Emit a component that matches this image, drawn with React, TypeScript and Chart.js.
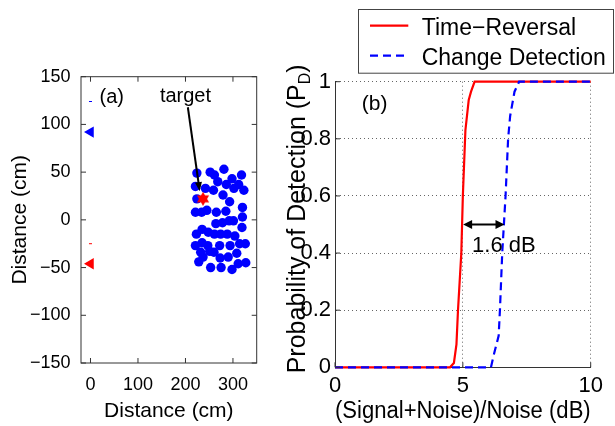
import React, { useEffect, useRef } from 'react';
import { Chart, registerables } from 'chart.js';

Chart.register(...registerables);

const FONT = '"Liberation Sans", Arial, Helvetica, sans-serif';

// ---------------- Panel (a): geometry (cm) ----------------
const scatterX = [224, 252, 261, 281, 298, 318, 221, 242, 259, 268, 286, 302, 312, 323, 224, 279, 293, 221, 234, 245, 265, 285, 320, 320, 264, 278, 292, 301, 319, 235, 223, 248, 261, 274, 288, 304, 221, 235, 247, 272, 294, 314, 326, 232, 237, 251, 260, 273, 290, 308, 228, 253, 275, 298, 311, 327];
const scatterY = [49, 50, 47, 53, 43, 47, 35, 33, 31, 40, 37, 33, 37, 31, 22, 26, 19, 8, 8, 10, 8, 9, 13, 3, -4, -3, -1, -1, -8, -10, -15, -13, -15, -15, -15, -17, -27, -24, -27, -27, -27, -25, -25, -34, -39, -33, -34, -40, -39, -35, -44, -50, -50, -52, -46, -45];
const targetX = [237];
const targetY = [22];
const blueArrayX = [0];
const blueArrayY = [92];
const redArrayX = [0];
const redArrayY = [-46];
const blueSmallX = [0];
const blueSmallY = [124];
const redSmallX = [0];
const redSmallY = [-25];
const distXTicks = [0, 100, 200, 300];
const distYTicks = [-150, -100, -50, 0, 50, 100, 150];

// ---------------- Panel (b): detection curves ----------------
const trX = [0, 4.5, 4.65, 4.75, 4.81, 4.94, 5.0, 5.1, 5.23, 5.32, 5.46, 10];
const trY = [0, 0, 0.015, 0.08, 0.2, 0.4, 0.6, 0.83, 0.936, 0.965, 1, 1];
const cdX = [0, 6.1, 6.2, 6.4, 6.45, 6.54, 6.67, 6.77, 6.85, 7.02, 7.2, 10];
const cdY = [0, 0, 0.04, 0.11, 0.2, 0.4, 0.6, 0.8, 0.88, 0.965, 1, 1];
const snrTicks = [0, 5, 10];
const pdTicks = [0, 0.2, 0.4, 0.6, 0.8, 1];
const legendLabels = ['Time\u2212Reversal', 'Change Detection'];

const minus = (v: number) => String(v).replace('-', '\u2212');

function makeHexagram(size: number, color: string) {
  const c = document.createElement('canvas');
  c.width = size;
  c.height = size;
  const ctx = c.getContext('2d')!;
  const r = size / 2;
  const ri = r / Math.sqrt(3);
  ctx.fillStyle = color;
  ctx.beginPath();
  for (let i = 0; i < 12; i++) {
    const ang = -Math.PI / 2 + (i * Math.PI) / 6;
    const rr = i % 2 === 0 ? r : ri;
    const px = r + rr * Math.cos(ang);
    const py = r + rr * Math.sin(ang);
    if (i === 0) ctx.moveTo(px, py);
    else ctx.lineTo(px, py);
  }
  ctx.closePath();
  ctx.fill();
  return c;
}

function arrowHead(ctx: CanvasRenderingContext2D, x1: number, y1: number, x2: number, y2: number, len: number, half: number) {
  const ang = Math.atan2(y2 - y1, x2 - x1);
  ctx.beginPath();
  ctx.moveTo(x2, y2);
  ctx.lineTo(x2 - len * Math.cos(ang) + half * Math.sin(ang), y2 - len * Math.sin(ang) - half * Math.cos(ang));
  ctx.lineTo(x2 - len * Math.cos(ang) - half * Math.sin(ang), y2 - len * Math.sin(ang) + half * Math.cos(ang));
  ctx.closePath();
  ctx.fill();
}

const panelAPlugin = {
  id: 'panelA',
  afterDatasetsDraw(chart: any) {
    const { ctx, chartArea: a, scales } = chart;
    const x = scales.x;
    const y = scales.y;
    ctx.save();
    ctx.strokeStyle = '#333';
    ctx.lineWidth = 1;
    ctx.strokeRect(a.left, a.top, a.right - a.left, a.bottom - a.top);
    const tl = 5;
    ctx.beginPath();
    distXTicks.forEach((v) => {
      const p = x.getPixelForValue(v);
      ctx.moveTo(p, a.bottom);
      ctx.lineTo(p, a.bottom - tl);
      ctx.moveTo(p, a.top);
      ctx.lineTo(p, a.top + tl);
    });
    distYTicks.forEach((v) => {
      const p = y.getPixelForValue(v);
      ctx.moveTo(a.left, p);
      ctx.lineTo(a.left + tl, p);
      ctx.moveTo(a.right, p);
      ctx.lineTo(a.right - tl, p);
    });
    ctx.stroke();

    // "target" arrow
    const sx = x.getPixelForValue(205);
    const sy = y.getPixelForValue(118);
    const ex = x.getPixelForValue(230);
    const ey = y.getPixelForValue(30);
    ctx.strokeStyle = '#000';
    ctx.fillStyle = '#000';
    ctx.lineWidth = 2;
    ctx.beginPath();
    ctx.moveTo(sx, sy);
    ctx.lineTo(ex - (ex - sx) * 0.08, ey - (ey - sy) * 0.08);
    ctx.stroke();
    arrowHead(ctx, sx, sy, ex, ey, 9, 3.5);

    ctx.font = `20px ${FONT}`;
    ctx.textBaseline = 'alphabetic';
    ctx.textAlign = 'center';
    ctx.fillText('target', x.getPixelForValue(200), y.getPixelForValue(123));
    ctx.textAlign = 'left';
    ctx.fillText('(a)', x.getPixelForValue(19), y.getPixelForValue(122));
    ctx.restore();
  },
};

const panelBPlugin = {
  id: 'panelB',
  afterDatasetsDraw(chart: any) {
    const { ctx, chartArea: a, scales } = chart;
    const x = scales.x;
    const y = scales.y;
    ctx.save();
    // inward ticks
    ctx.strokeStyle = '#333';
    ctx.lineWidth = 1;
    ctx.beginPath();
    snrTicks.forEach((v) => {
      const p = x.getPixelForValue(v);
      ctx.moveTo(p, a.bottom);
      ctx.lineTo(p, a.bottom - 5);
    });
    pdTicks.forEach((v) => {
      const p = y.getPixelForValue(v);
      ctx.moveTo(a.left, p);
      ctx.lineTo(a.left + 5, p);
    });
    ctx.stroke();

    // 1.6 dB double arrow
    const x1 = x.getPixelForValue(5.01);
    const x2 = x.getPixelForValue(6.63);
    const yy = y.getPixelForValue(0.5);
    ctx.strokeStyle = '#000';
    ctx.fillStyle = '#000';
    ctx.lineWidth = 2;
    ctx.beginPath();
    ctx.moveTo(x1 + 6, yy);
    ctx.lineTo(x2 - 6, yy);
    ctx.stroke();
    arrowHead(ctx, x2, yy, x1, yy, 9, 4.5);
    arrowHead(ctx, x1, yy, x2, yy, 9, 4.5);

    ctx.textBaseline = 'alphabetic';
    ctx.textAlign = 'left';
    ctx.font = `22px ${FONT}`;
    ctx.fillText('1.6 dB', x.getPixelForValue(5.36), y.getPixelForValue(0.405));
    ctx.font = `21px ${FONT}`;
    ctx.fillText('(b)', x.getPixelForValue(1.05), y.getPixelForValue(0.9));

    // y-axis title with subscript
    ctx.save();
    ctx.translate(a.left - 30.3, a.bottom + 6);
    ctx.rotate(-Math.PI / 2);
    const main = 'Probability of Detection (P';
    ctx.font = `25px ${FONT}`;
    ctx.fillText(main, 0, 0);
    let w = ctx.measureText(main).width;
    ctx.font = `16px ${FONT}`;
    ctx.fillText('D', w, 5);
    w += ctx.measureText('D').width;
    ctx.font = `25px ${FONT}`;
    ctx.fillText(')', w, 0);
    ctx.restore();

    // legend
    const lx = a.left + 22.7;
    const ly = 9;
    const lw = chart.width - 1 - lx;
    const lh = 63.7;
    ctx.fillStyle = '#fff';
    ctx.fillRect(lx, ly, lw, lh);
    ctx.strokeStyle = '#444';
    ctx.lineWidth = 1;
    ctx.strokeRect(Math.round(lx) + 0.5, ly + 0.5, Math.round(lw) - 1, lh);
    const rows = [25.7, 55.7];
    chart.data.datasets.forEach((ds: any, i: number) => {
      const ry = rows[i];
      ctx.strokeStyle = ds.borderColor;
      ctx.lineWidth = ds.borderWidth;
      ctx.setLineDash(ds.borderDash || []);
      ctx.beginPath();
      ctx.moveTo(lx + 12.3, ry);
      ctx.lineTo(lx + 50.6, ry);
      ctx.stroke();
      ctx.setLineDash([]);
      ctx.fillStyle = '#000';
      ctx.font = `23px ${FONT}`;
      ctx.fillText(ds.label, lx + 64, ry + 9);
    });
    ctx.restore();
  },
};

export default function App() {
  const leftRef = useRef<HTMLCanvasElement>(null);
  const rightRef = useRef<HTMLCanvasElement>(null);

  useEffect(() => {
    Chart.defaults.font.family = FONT;
    Chart.defaults.color = '#000';
    const star = makeHexagram(14, '#ff0000');
    const pts = (xs: number[], ys: number[]) => xs.map((v, i) => ({ x: v, y: ys[i] }));

    const left = new Chart(leftRef.current!, {
      type: 'scatter',
      data: {
        datasets: [
          { label: 'target', data: pts(targetX, targetY), pointStyle: star as any, pointRadius: 7, backgroundColor: '#ff0000', borderColor: '#ff0000' },
          { label: 'scatterers', data: pts(scatterX, scatterY), pointRadius: 4.7, backgroundColor: '#0000ff', borderColor: '#0000ff', borderWidth: 0 },
          { label: 'array A', data: pts(blueArrayX, blueArrayY), pointStyle: 'triangle', rotation: -90, pointRadius: 6.5, backgroundColor: '#0000ff', borderColor: '#0000ff', borderWidth: 0 },
          { label: 'array B', data: pts(redArrayX, redArrayY), pointStyle: 'triangle', rotation: -90, pointRadius: 6.5, backgroundColor: '#ff0000', borderColor: '#ff0000', borderWidth: 0 },
          { label: 'ref A', data: pts(blueSmallX, blueSmallY), pointStyle: 'line', pointRadius: 1.5, borderColor: '#0000ff', borderWidth: 1 },
          { label: 'ref B', data: pts(redSmallX, redSmallY), pointStyle: 'line', pointRadius: 1.5, borderColor: '#ff0000', borderWidth: 1 },
        ],
      },
      options: {
        animation: false,
        responsive: false,
        events: [],
        layout: { padding: { left: 0, right: 13.3, top: 76.7, bottom: 0 } },
        plugins: { legend: { display: false }, tooltip: { enabled: false } },
        scales: {
          x: {
            type: 'linear',
            min: -20,
            max: 350,
            afterBuildTicks: (s: any) => { s.ticks = distXTicks.map((v) => ({ value: v })); },
            afterFit: (s: any) => { s.height = 63; },
            grid: { display: false },
            border: { display: false },
            ticks: { font: { size: 18 }, color: '#000', padding: 3, autoSkip: false, maxRotation: 0, callback: (v: any) => minus(v) },
            title: { display: true, text: 'Distance (cm)', font: { size: 21 }, color: '#000', padding: { top: 0, bottom: 2.4 } },
          },
          y: {
            type: 'linear',
            min: -150,
            max: 150,
            afterBuildTicks: (s: any) => { s.ticks = distYTicks.map((v) => ({ value: v })); },
            afterFit: (s: any) => { s.width = 81; },
            grid: { display: false },
            border: { display: false },
            ticks: { font: { size: 18 }, color: '#000', padding: 2.5, autoSkip: false, callback: (v: any) => minus(v) },
            title: { display: true, text: 'Distance (cm)', font: { size: 21 }, color: '#000', padding: { top: 8, bottom: 0 } },
          },
        },
      },
      plugins: [panelAPlugin],
    } as any);

    const right = new Chart(rightRef.current!, {
      type: 'scatter',
      data: {
        datasets: [
          { label: legendLabels[0], data: pts(trX, trY), showLine: true, pointRadius: 0, borderColor: '#ff0000', borderWidth: 2.2, order: 1, clip: 5 },
          { label: legendLabels[1], data: pts(cdX, cdY), showLine: true, pointRadius: 0, borderColor: '#0000ff', borderWidth: 2.2, borderDash: [8, 5], order: 0, clip: 5 },
        ],
      },
      options: {
        animation: false,
        responsive: false,
        events: [],
        layout: { padding: { left: 0, right: 24.3, top: 81.7, bottom: 0 } },
        plugins: { legend: { display: false }, tooltip: { enabled: false } },
        scales: {
          x: {
            type: 'linear',
            min: 0,
            max: 10,
            afterBuildTicks: (s: any) => { s.ticks = snrTicks.map((v) => ({ value: v })); },
            afterFit: (s: any) => { s.height = 58.7; },
            grid: { display: true, drawTicks: false, color: '#666', lineWidth: 1 },
            border: { display: true, color: '#333', width: 1, dash: [1, 3] },
            ticks: { font: { size: 22 }, color: '#000', padding: 5, autoSkip: false, maxRotation: 0, callback: (v: any) => String(v) },
            title: { display: true, text: '(Signal+Noise)/Noise (dB)', font: { size: 23 }, color: '#000', padding: { top: 0, bottom: 0.2 } },
          },
          y: {
            type: 'linear',
            min: 0,
            max: 1,
            afterBuildTicks: (s: any) => { s.ticks = pdTicks.map((v) => ({ value: v })); },
            afterFit: (s: any) => { s.width = 65; },
            grid: { display: true, drawTicks: false, color: '#666', lineWidth: 1 },
            border: { display: true, color: '#333', width: 1, dash: [1, 3] },
            ticks: { font: { size: 22 }, color: '#000', padding: 4, autoSkip: false, callback: (v: any) => String(v) },
            title: { display: false },
          },
        },
      },
      plugins: [panelBPlugin],
    } as any);

    return () => {
      left.destroy();
      right.destroy();
    };
  }, []);

  return (
    <div style={{ position: 'fixed', left: 0, top: 0, width: 615, height: 426, background: '#fff', overflow: 'hidden' }}>
      <canvas ref={leftRef} width={270} height={426} style={{ position: 'absolute', left: 0, top: 0, width: 270, height: 426 }} />
      <canvas ref={rightRef} width={345} height={426} style={{ position: 'absolute', left: 270, top: 0, width: 345, height: 426 }} />
    </div>
  );
}
